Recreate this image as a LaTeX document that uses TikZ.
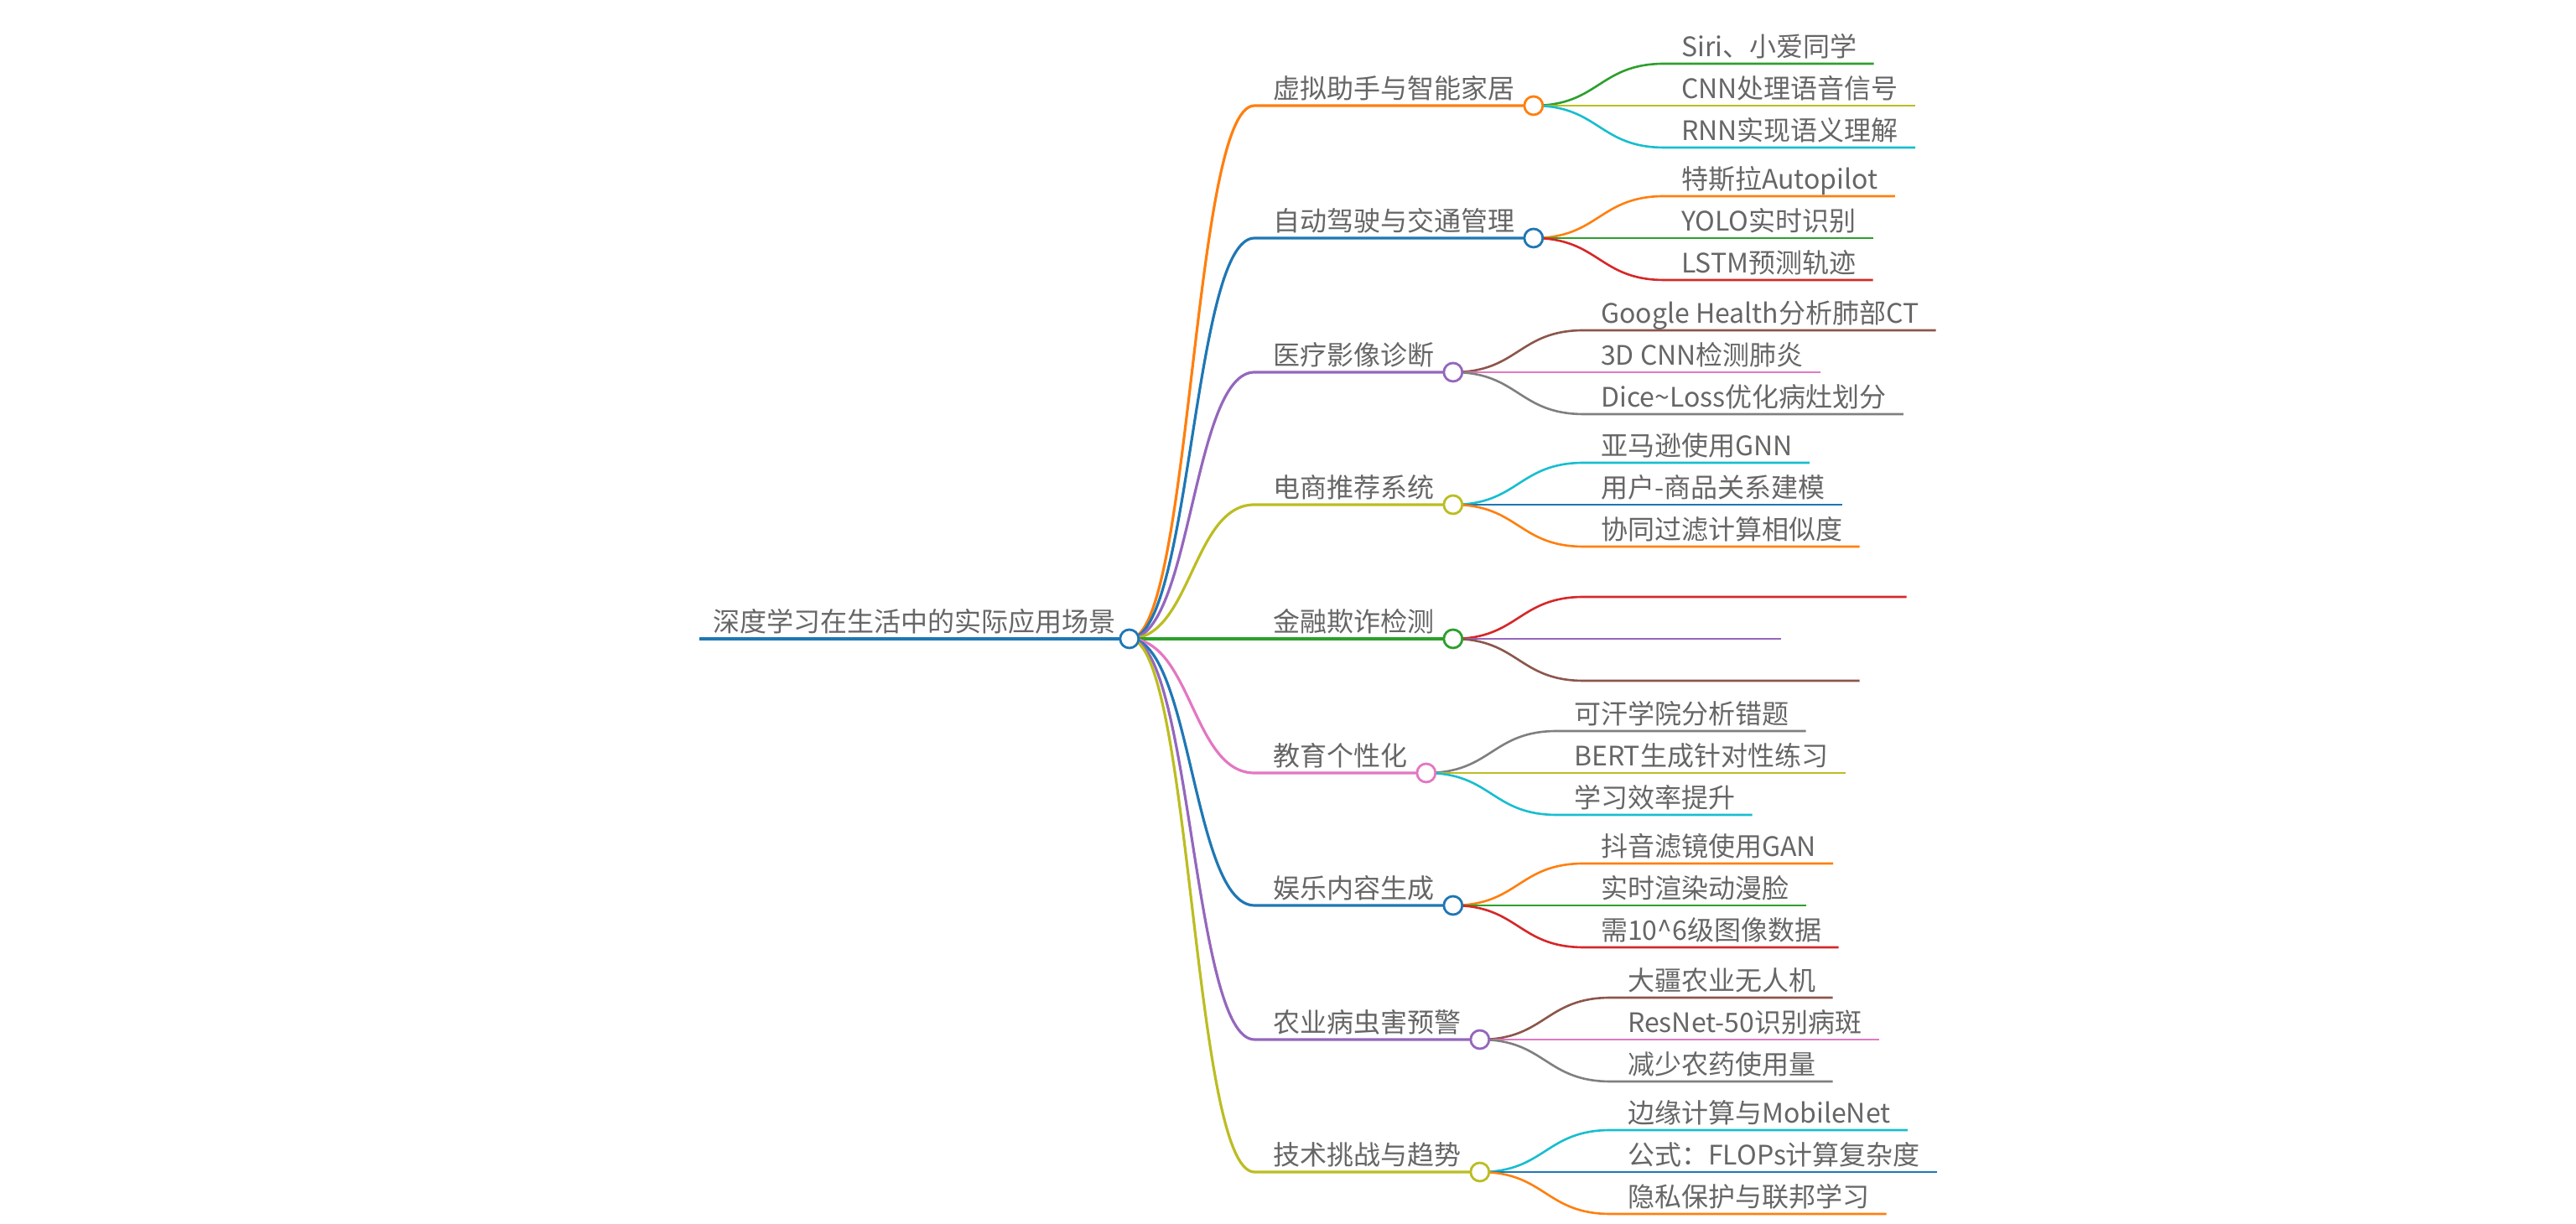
\documentclass[tikz,border=0pt]{standalone}
\usepackage{fontspec}
\setmainfont{Noto Sans CJK SC}
\usepackage{tikz}
\usetikzlibrary{positioning, calc, backgrounds}

\definecolor{mmblue}{HTML}{1F77B4}
\definecolor{mmorange}{HTML}{FF7F0E}
\definecolor{mmgreen}{HTML}{2CA02C}
\definecolor{mmred}{HTML}{D62728}
\definecolor{mmpurple}{HTML}{9467BD}
\definecolor{mmbrown}{HTML}{8C564B}
\definecolor{mmpink}{HTML}{E377C2}
\definecolor{mmgray}{HTML}{7F7F7F}
\definecolor{mmolive}{HTML}{BCBD22}
\definecolor{mmcyan}{HTML}{17BECF}

\begin{document}
\begin{tikzpicture}[
    x = 1pt, y = 1pt,
    topic/.style = {anchor=south west, inner xsep=11pt, inner ysep=0.5pt, text height=12.5pt, text depth=3.5pt, text=black!60, font=\fontsize{16pt}{19pt}\selectfont},
    leaf/.style = {topic, inner xsep=10pt},
    dot/.style = {circle, draw=#1, fill=white, line width=1.4pt, inner sep=0pt, minimum size=11pt},
    link/.style = {draw=#1, line width=1.6pt},
    twig/.style = {draw=#1, line width=1.3pt}
]
\useasboundingbox (0,0) rectangle (1536,730);

% Root
    \node[topic, inner xsep=8pt] (root) at (417,349) {深度学习在生活中的实际应用场景};
    \node[dot=mmblue] (rootdot) at (root.south east) {};

% Branch 1
    \node[topic] (br1) at (748,667) {虚拟助手与智能家居};
    \node[dot=mmorange] (br1dot) at (br1.south east) {};
    \node[leaf] (lf11) at ($(br1dot)+(78,25)$) {Siri、小爱同学};
    \node[leaf] (lf12) at ($(br1dot)+(78,0)$) {CNN处理语音信号};
    \node[leaf] (lf13) at ($(br1dot)+(78,-25)$) {RNN实现语义理解};

% Branch 2
    \node[topic] (br2) at (748,588) {自动驾驶与交通管理};
    \node[dot=mmblue] (br2dot) at (br2.south east) {};
    \node[leaf] (lf21) at ($(br2dot)+(78,25)$) {特斯拉Autopilot};
    \node[leaf] (lf22) at ($(br2dot)+(78,0)$) {YOLO实时识别};
    \node[leaf] (lf23) at ($(br2dot)+(78,-25)$) {LSTM预测轨迹};

% Branch 3
    \node[topic] (br3) at (748,508) {医疗影像诊断};
    \node[dot=mmpurple] (br3dot) at (br3.south east) {};
    \node[leaf] (lf31) at ($(br3dot)+(78,25)$) {Google Health分析肺部CT};
    \node[leaf] (lf32) at ($(br3dot)+(78,0)$) {3D CNN检测肺炎};
    \node[leaf] (lf33) at ($(br3dot)+(78,-25)$) {Dice\textasciitilde Loss优化病灶划分};

% Branch 4
    \node[topic] (br4) at (748,429) {电商推荐系统};
    \node[dot=mmolive] (br4dot) at (br4.south east) {};
    \node[leaf] (lf41) at ($(br4dot)+(78,25)$) {亚马逊使用GNN};
    \node[leaf] (lf42) at ($(br4dot)+(78,0)$) {用户-商品关系建模};
    \node[leaf] (lf43) at ($(br4dot)+(78,-25)$) {协同过滤计算相似度};

% Branch 5
    \node[topic] (br5) at (748,349) {金融欺诈检测};
    \node[dot=mmgreen] (br5dot) at (br5.south east) {};
    \node[leaf, minimum width=192pt] (lf51) at ($(br5dot)+(78,25)$) {};
    \node[leaf, minimum width=117pt] (lf52) at ($(br5dot)+(78,0)$) {};
    \node[leaf, minimum width=164pt] (lf53) at ($(br5dot)+(78,-25)$) {};

% Branch 6
    \node[topic] (br6) at (748,269) {教育个性化};
    \node[dot=mmpink] (br6dot) at (br6.south east) {};
    \node[leaf] (lf61) at ($(br6dot)+(78,25)$) {可汗学院分析错题};
    \node[leaf] (lf62) at ($(br6dot)+(78,0)$) {BERT生成针对性练习};
    \node[leaf] (lf63) at ($(br6dot)+(78,-25)$) {学习效率提升};

% Branch 7
    \node[topic] (br7) at (748,190) {娱乐内容生成};
    \node[dot=mmblue] (br7dot) at (br7.south east) {};
    \node[leaf] (lf71) at ($(br7dot)+(78,25)$) {抖音滤镜使用GAN};
    \node[leaf] (lf72) at ($(br7dot)+(78,0)$) {实时渲染动漫脸};
    \node[leaf] (lf73) at ($(br7dot)+(78,-25)$) {需10\textasciicircum 6级图像数据};

% Branch 8
    \node[topic] (br8) at (748,110) {农业病虫害预警};
    \node[dot=mmpurple] (br8dot) at (br8.south east) {};
    \node[leaf] (lf81) at ($(br8dot)+(78,25)$) {大疆农业无人机};
    \node[leaf] (lf82) at ($(br8dot)+(78,0)$) {ResNet-50识别病斑};
    \node[leaf] (lf83) at ($(br8dot)+(78,-25)$) {减少农药使用量};

% Branch 9
    \node[topic] (br9) at (748,31) {技术挑战与趋势};
    \node[dot=mmolive] (br9dot) at (br9.south east) {};
    \node[leaf] (lf91) at ($(br9dot)+(78,25)$) {边缘计算与MobileNet};
    \node[leaf] (lf92) at ($(br9dot)+(78,0)$) {公式：FLOPs计算复杂度};
    \node[leaf] (lf93) at ($(br9dot)+(78,-25)$) {隐私保护与联邦学习};

% Links
\begin{scope}[on background layer]
    \draw[link=mmblue, line width=2.4pt] (root.south west) -- (rootdot.center);

    \draw[link=mmorange] (rootdot.center) .. controls +(37,0) and +(-37,0) .. (br1.south west) -- (br1dot.center);
    \draw[link=mmblue] (rootdot.center) .. controls +(37,0) and +(-37,0) .. (br2.south west) -- (br2dot.center);
    \draw[link=mmpurple] (rootdot.center) .. controls +(37,0) and +(-37,0) .. (br3.south west) -- (br3dot.center);
    \draw[link=mmolive] (rootdot.center) .. controls +(37,0) and +(-37,0) .. (br4.south west) -- (br4dot.center);
    \draw[link=mmgreen] (rootdot.center) -- (br5.south west) -- (br5dot.center);
    \draw[link=mmpink] (rootdot.center) .. controls +(37,0) and +(-37,0) .. (br6.south west) -- (br6dot.center);
    \draw[link=mmblue] (rootdot.center) .. controls +(37,0) and +(-37,0) .. (br7.south west) -- (br7dot.center);
    \draw[link=mmpurple] (rootdot.center) .. controls +(37,0) and +(-37,0) .. (br8.south west) -- (br8dot.center);
    \draw[link=mmolive] (rootdot.center) .. controls +(37,0) and +(-37,0) .. (br9.south west) -- (br9dot.center);

    \draw[twig=mmgreen] (br1dot.center) .. controls +(39,0) and +(-39,0) .. (lf11.south west) -- (lf11.south east);
    \draw[twig=mmolive] (br1dot.center) -- (lf12.south west) -- (lf12.south east);
    \draw[twig=mmcyan] (br1dot.center) .. controls +(39,0) and +(-39,0) .. (lf13.south west) -- (lf13.south east);

    \draw[twig=mmorange] (br2dot.center) .. controls +(39,0) and +(-39,0) .. (lf21.south west) -- (lf21.south east);
    \draw[twig=mmgreen] (br2dot.center) -- (lf22.south west) -- (lf22.south east);
    \draw[twig=mmred] (br2dot.center) .. controls +(39,0) and +(-39,0) .. (lf23.south west) -- (lf23.south east);

    \draw[twig=mmbrown] (br3dot.center) .. controls +(39,0) and +(-39,0) .. (lf31.south west) -- (lf31.south east);
    \draw[twig=mmpink] (br3dot.center) -- (lf32.south west) -- (lf32.south east);
    \draw[twig=mmgray] (br3dot.center) .. controls +(39,0) and +(-39,0) .. (lf33.south west) -- (lf33.south east);

    \draw[twig=mmcyan] (br4dot.center) .. controls +(39,0) and +(-39,0) .. (lf41.south west) -- (lf41.south east);
    \draw[twig=mmblue] (br4dot.center) -- (lf42.south west) -- (lf42.south east);
    \draw[twig=mmorange] (br4dot.center) .. controls +(39,0) and +(-39,0) .. (lf43.south west) -- (lf43.south east);

    \draw[twig=mmred] (br5dot.center) .. controls +(39,0) and +(-39,0) .. (lf51.south west) -- (lf51.south east);
    \draw[twig=mmpurple] (br5dot.center) -- (lf52.south west) -- (lf52.south east);
    \draw[twig=mmbrown] (br5dot.center) .. controls +(39,0) and +(-39,0) .. (lf53.south west) -- (lf53.south east);

    \draw[twig=mmgray] (br6dot.center) .. controls +(39,0) and +(-39,0) .. (lf61.south west) -- (lf61.south east);
    \draw[twig=mmolive] (br6dot.center) -- (lf62.south west) -- (lf62.south east);
    \draw[twig=mmcyan] (br6dot.center) .. controls +(39,0) and +(-39,0) .. (lf63.south west) -- (lf63.south east);

    \draw[twig=mmorange] (br7dot.center) .. controls +(39,0) and +(-39,0) .. (lf71.south west) -- (lf71.south east);
    \draw[twig=mmgreen] (br7dot.center) -- (lf72.south west) -- (lf72.south east);
    \draw[twig=mmred] (br7dot.center) .. controls +(39,0) and +(-39,0) .. (lf73.south west) -- (lf73.south east);

    \draw[twig=mmbrown] (br8dot.center) .. controls +(39,0) and +(-39,0) .. (lf81.south west) -- (lf81.south east);
    \draw[twig=mmpink] (br8dot.center) -- (lf82.south west) -- (lf82.south east);
    \draw[twig=mmgray] (br8dot.center) .. controls +(39,0) and +(-39,0) .. (lf83.south west) -- (lf83.south east);

    \draw[twig=mmcyan] (br9dot.center) .. controls +(39,0) and +(-39,0) .. (lf91.south west) -- (lf91.south east);
    \draw[twig=mmblue] (br9dot.center) -- (lf92.south west) -- (lf92.south east);
    \draw[twig=mmorange] (br9dot.center) .. controls +(39,0) and +(-39,0) .. (lf93.south west) -- (lf93.south east);
\end{scope}
\end{tikzpicture}
\end{document}
